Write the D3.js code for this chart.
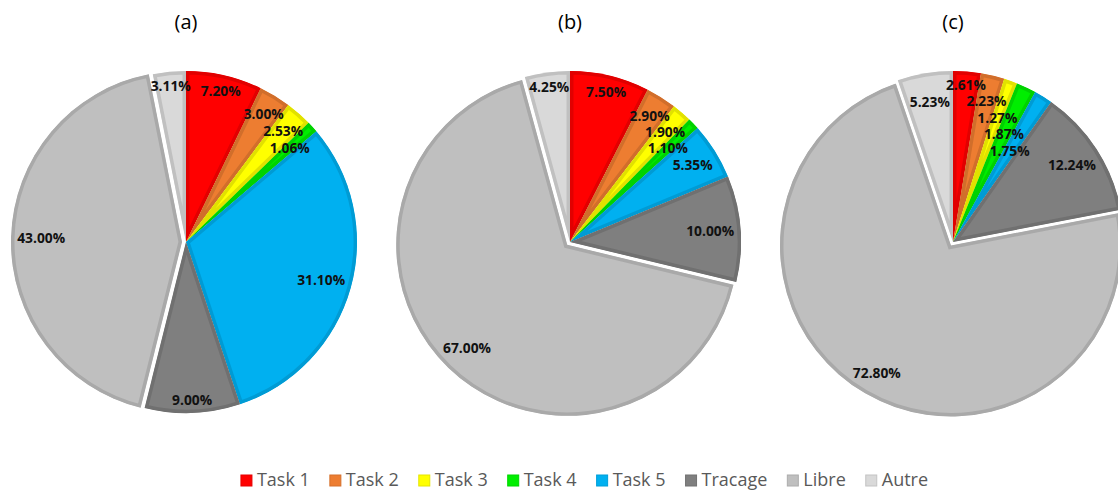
<!DOCTYPE html>
<html>
<head>
<meta charset="utf-8">
<script src="https://cdn.jsdelivr.net/npm/d3@7"></script>
<style>
  body { margin: 0; background: #fff; }
  svg { display: block; }
</style>
</head>
<body>
<svg width="1118" height="490"></svg>
<script>
var width = 1118, height = 490;

// data
var categories = ["Task 1", "Task 2", "Task 3", "Task 4", "Task 5", "Tracage", "Libre", "Autre"];
var titles = ["(a)", "(b)", "(c)"];
var valuesA = [7.20, 3.00, 2.53, 1.06, 31.10, 9.00, 43.00, 3.11];
var valuesB = [7.50, 2.90, 1.90, 1.10, 5.35, 10.00, 67.00, 4.25];
var valuesC = [2.61, 2.23, 1.27, 1.87, 1.75, 12.24, 72.80, 5.23];
var exploded = ["Libre"];

var colors = ["#ff0000", "#ed7d31", "#ffff00", "#00ee00", "#00b0f0", "#7f7f7f", "#bfbfbf", "#d9d9d9"];

var svg = d3.select("svg");
var defs = svg.append("defs");

var radius = 171;
var cy = 242;
var centersX = [186, 570, 953];
var explode = 4;

var color = d3.scaleOrdinal().domain(categories).range(colors);

var pie = d3.pie().sort(null).value(function(d) { return d.value; });
var arc = d3.arc().innerRadius(0).outerRadius(radius);

var labelFont = "bold 13.8px 'Open Sans', sans-serif";

function drawPie(values, idx) {
  var data = values.map(function(v, i) { return { name: categories[i], value: v }; });
  var arcs = pie(data);
  var g = svg.append("g").attr("transform", "translate(" + centersX[idx] + "," + cy + ")");

  g.append("text")
    .attr("x", 0)
    .attr("y", -213)
    .attr("text-anchor", "middle")
    .attr("font-family", "'Open Sans', sans-serif")
    .attr("font-size", 20)
    .attr("fill", "#000")
    .text(titles[idx]);

  var slices = g.selectAll("g.slice")
    .data(arcs)
    .enter()
    .append("g")
    .attr("class", "slice")
    .attr("transform", function(d) {
      if (exploded.indexOf(d.data.name) < 0) return null;
      var a = (d.startAngle + d.endAngle) / 2;
      return "translate(" + (Math.sin(a) * explode) + "," + (-Math.cos(a) * explode) + ")";
    });

  slices.each(function(d, i) {
    var id = "clip-" + idx + "-" + i;
    defs.append("clipPath").attr("id", id).append("path").attr("d", arc(d));
    d3.select(this).append("path")
      .attr("d", arc(d))
      .attr("fill", color(d.data.name))
      .attr("stroke", d3.color(color(d.data.name)).darker(0.35))
      .attr("stroke-width", 7)
      .attr("stroke-linejoin", "miter")
      .attr("clip-path", "url(#" + id + ")");
  });

  // labels, "inside end" style, pushed inward if they collide
  var placed = [];
  var lg = g.append("g");
  arcs.forEach(function(d) {
    var a = (d.startAngle + d.endAngle) / 2;
    var sx = Math.sin(a), sy = -Math.cos(a);
    var off = exploded.indexOf(d.data.name) >= 0 ? explode : 0;
    var t = lg.append("text")
      .attr("text-anchor", "middle")
      .attr("dy", "0.36em")
      .style("font", labelFont)
      .attr("fill", "#111")
      .text(d.data.value.toFixed(2) + "%");
    var w = t.node().getComputedTextLength();
    var h = 12;
    var ext = Math.abs(sx) * w / 2 + Math.abs(sy) * h / 2;
    var dist = radius - 6 - ext;
    function box(r) {
      var x = sx * (r + off), y = sy * (r + off);
      return { x0: x - w / 2, x1: x + w / 2, y0: y - 8, y1: y + 8 };
    }
    function hits(b) {
      return placed.some(function(p) {
        return b.x0 < p.x1 && b.x1 > p.x0 && b.y0 < p.y1 && b.y1 > p.y0;
      });
    }
    var b = box(dist);
    while (hits(b) && dist > 20) { dist -= 1; b = box(dist); }
    placed.push(b);
    t.attr("x", sx * (dist + off)).attr("y", sy * (dist + off));
  });
}

drawPie(valuesA, 0);
drawPie(valuesB, 1);
drawPie(valuesC, 2);

// legend
var legend = svg.append("g");
var items = legend.selectAll("g")
  .data(categories)
  .enter()
  .append("g");
items.append("rect")
  .attr("width", 11)
  .attr("height", 11)
  .attr("y", -11)
  .attr("fill", function(d) { return color(d); })
  .attr("stroke", function(d) { return d3.color(color(d)).darker(0.3); })
  .attr("stroke-width", 1);
items.append("text")
  .attr("x", 16)
  .attr("y", 0)
  .attr("font-family", "'Open Sans', sans-serif")
  .attr("font-size", 18)
  .attr("fill", "#595959")
  .text(function(d) { return d; });

var xpos = 0;
items.each(function() {
  var it = d3.select(this);
  it.attr("transform", "translate(" + xpos + ",0)");
  xpos += 16 + it.select("text").node().getComputedTextLength() + 20;
});
var total = xpos - 20;
legend.attr("transform", "translate(" + (584.5 - total / 2) + ",486)");
</script>
</body>
</html>
